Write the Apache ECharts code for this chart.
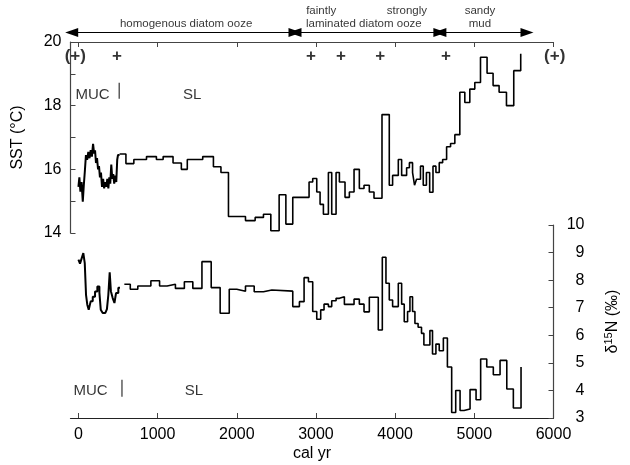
<!DOCTYPE html>
<html>
<head>
<meta charset="utf-8">
<script src="https://cdn.jsdelivr.net/npm/echarts@6/dist/echarts.min.js"></script>
<style>
  html, body { margin: 0; background: #fff; }
  #chart { width: 630px; height: 465px; }
</style>
</head>
<body>
<div id="chart"></div>
<script>
// cal yr -> SST (°C), multicorer part (dense) and gravity core (SL)
const sstMuc = [
  [0, 15.45], [12, 15.75], [25, 15.3], [40, 15.6], [55, 14.98], [68, 15.5], [80, 15.9],
  [95, 16.45], [110, 16.3], [125, 16.55], [140, 16.35], [155, 16.6], [170, 16.4],
  [185, 16.8], [198, 16.5], [210, 16.6], [222, 16.2], [235, 16.35], [248, 16.0],
  [260, 16.1], [272, 15.75], [285, 15.9], [298, 15.45], [312, 15.7], [325, 15.4],
  [338, 15.6], [352, 15.45], [365, 15.7], [378, 15.4], [390, 15.75], [402, 15.55],
  [415, 16.15], [428, 15.7], [440, 15.85], [452, 15.55], [465, 15.8], [478, 15.6],
  [490, 16.3], [500, 16.45], [520, 16.45]
]
const sstSl = [
  [520, 16.48], [600, 16.18], [700, 16.31], [860, 16.4], [985, 16.31], [1070, 16.4],
  [1195, 16.2], [1300, 16.0], [1375, 16.31], [1570, 16.4], [1705, 16.08], [1800, 15.9],
  [1895, 14.52], [2110, 14.39], [2232, 14.49], [2337, 14.59], [2430, 14.07], [2535, 15.2],
  [2620, 14.28], [2707, 15.12], [2913, 15.6], [2959, 15.71], [3010, 15.29], [3052, 14.9],
  [3094, 14.59], [3157, 15.9], [3199, 14.59], [3254, 15.9], [3296, 15.6], [3367, 15.12],
  [3422, 15.29], [3481, 16.0], [3548, 15.4], [3607, 15.5], [3674, 15.29], [3733, 15.09],
  [3834, 17.72], [3926, 15.5], [3968, 15.81], [4040, 16.31], [4082, 15.81], [4145, 16.05],
  [4180, 16.21], [4220, 15.9], [4245, 15.5], [4270, 15.69], [4320, 16.1], [4355, 15.5],
  [4395, 15.9], [4436, 15.28], [4478, 16.1], [4515, 15.9], [4557, 16.21], [4600, 16.31],
  [4650, 16.71], [4700, 16.81], [4754, 17.09], [4817, 18.42], [4880, 18.1], [4943, 18.52],
  [5006, 18.73], [5078, 19.52], [5161, 19.02], [5237, 18.63], [5313, 18.42], [5406, 18.0],
  [5498, 19.1], [5586, 19.63]
]
// cal yr -> δ15N (‰)
const d15nMuc = [
  [0, 8.74], [20, 8.6], [42, 8.8], [62, 8.98], [80, 8.62], [96, 7.47], [112, 7.11],
  [130, 6.93], [155, 7.23], [181, 7.4], [210, 7.59], [239, 7.77], [265, 7.55], [282, 6.93],
  [307, 6.81], [340, 6.85], [360, 6.95], [378, 7.47], [395, 8.28], [410, 7.6], [433, 7.35],
  [455, 7.17], [475, 7.53], [504, 7.72], [525, 7.72]
]
const d15nSl = [
  [580, 7.85], [655, 7.67], [750, 7.79], [915, 7.98], [1025, 7.79], [1120, 7.85],
  [1225, 7.7], [1338, 7.94], [1445, 7.7], [1560, 8.67], [1677, 7.73], [1790, 6.8],
  [1905, 7.67], [2000, 7.6], [2110, 7.79], [2220, 7.58], [2337, 7.64], [2443, 7.6],
  [2707, 7.04], [2791, 7.22], [2850, 8.09], [2905, 7.94], [2959, 6.86], [3010, 6.58],
  [3060, 6.92], [3102, 7.13], [3157, 7.04], [3199, 7.25], [3254, 7.34], [3296, 7.4],
  [3359, 7.12], [3481, 7.31], [3548, 7.13], [3607, 6.85], [3674, 7.38], [3787, 6.19],
  [3838, 8.83], [3884, 7.89], [3926, 7.28], [3968, 7.04], [4040, 7.89], [4082, 7.13],
  [4115, 6.49], [4157, 6.86], [4187, 7.4], [4220, 6.86], [4250, 6.43], [4290, 6.29],
  [4333, 6.07], [4363, 5.65], [4439, 6.17], [4472, 5.32], [4515, 5.68], [4557, 5.44],
  [4609, 5.9], [4660, 4.85], [4714, 3.2], [4765, 4.0], [4820, 3.27], [4870, 3.33],
  [4946, 4.03], [5022, 3.66], [5080, 5.14], [5157, 4.85], [5240, 4.57], [5325, 5.09],
  [5410, 4.05], [5493, 3.36], [5590, 4.85]
]

const xTicks = [0, 1000, 2000, 3000, 4000, 5000, 6000]
// lithology zones (cal yr from - to) and their labels [text, yr, row]
const zones = [[-85, 2735], [2735, 4565], [4565, 5665]]
const zoneText = [
  ['homogenous diatom ooze', 1360, 24], ['faintly', 3066, 11], ['laminated diatom ooze', 3605, 24],
  ['strongly', 4149, 11], ['sandy', 5072, 11], ['mud', 5070, 24]
]
const plusMarks = [['(+)', -40], ['+', 488], ['+', 2938], ['+', 3317], ['+', 3810], ['+', 4643], ['(+)', 6015]]

const font = 'Liberation Sans, Arial, sans-serif'
const black = '#000'

function stepLine(data, xi, yi, width) {
  return {
    type: 'line', step: 'end', data: data, xAxisIndex: xi, yAxisIndex: yi,
    symbol: 'none', lineStyle: { color: black, width: width || 1.6 }, silent: true
  }
}
function textMarks(items, xi, yi, size, weight) {
  return {
    type: 'scatter', xAxisIndex: xi, yAxisIndex: yi, symbolSize: 0, silent: true, clip: false,
    data: items.map(v => ({ name: v[0], value: [v[1], v[2]] })),
    label: {
      show: true, position: 'inside', formatter: p => p.name,
      color: black, fontFamily: font, fontSize: size, fontWeight: weight || 'normal'
    }
  }
}
function barMark(x, y0, y1, xi, yi) {
  return {
    type: 'line', xAxisIndex: xi, yAxisIndex: yi, symbol: 'none', silent: true,
    data: [[x, y0], [x, y1]], lineStyle: { color: '#333', width: 1.2 }
  }
}

const chart = echarts.init(document.getElementById('chart'))
chart.setOption({
  animation: false,
  backgroundColor: '#fff',
  grid: [
    { left: 70.5, top: 42, width: 483, height: 191 },
    { left: 70.5, top: 225, width: 483, height: 193 },
    { left: 70.5, top: 0, width: 483, height: 70 }
  ],
  xAxis: [
    {
      gridIndex: 0, type: 'value', position: 'top', min: -100, max: 6000,
      axisLine: { onZero: false, lineStyle: { color: '#444', width: 1.2 } },
      axisTick: { inside: true, length: 5, customValues: xTicks, lineStyle: { color: '#444' } },
      axisLabel: { show: false }, splitLine: { show: false }
    },
    {
      gridIndex: 1, type: 'value', position: 'bottom', min: -100, max: 6000,
      name: 'cal yr', nameLocation: 'middle', nameGap: 28,
      nameTextStyle: { color: black, fontFamily: font, fontSize: 16 },
      axisLine: { onZero: false, lineStyle: { color: '#222', width: 1.2 } },
      axisTick: { inside: true, length: 5, customValues: xTicks, lineStyle: { color: '#444' } },
      axisLabel: {
        customValues: xTicks, formatter: v => String(v),
        color: black, fontFamily: font, fontSize: 16, margin: 9
      },
      splitLine: { show: false }
    },
    { gridIndex: 2, type: 'value', min: -100, max: 6000, show: false }
  ],
  yAxis: [
    {
      gridIndex: 0, type: 'value', position: 'left', min: 14, max: 20, interval: 1,
      name: 'SST (°C)', nameLocation: 'middle', nameGap: 45,
      nameTextStyle: { color: black, fontFamily: font, fontSize: 16 },
      axisLine: { show: true, onZero: false, lineStyle: { color: '#444', width: 1.2 } },
      axisTick: { inside: true, length: 5, lineStyle: { color: '#444' } },
      axisLabel: {
        formatter: v => (v % 2 === 0 ? String(v) : ''),
        color: black, fontFamily: font, fontSize: 16, margin: 9
      },
      splitLine: { show: false }
    },
    {
      gridIndex: 1, type: 'value', position: 'right', min: 3, max: 10, interval: 1,
      name: '{t|δ}{s|15}{t|N (‰)}', nameLocation: 'middle', nameGap: 50,
      nameTextStyle: {
        color: black, fontFamily: font, fontSize: 16,
        rich: {
          t: { fontFamily: font, fontSize: 16, color: black },
          s: { fontFamily: font, fontSize: 11, color: black, verticalAlign: 'top', padding: [0, 0, 8, 0] }
        }
      },
      axisLine: { show: true, onZero: false, lineStyle: { color: '#444', width: 1.2 } },
      axisTick: { inside: true, length: 5, lineStyle: { color: '#444' } },
      axisLabel: { align: 'right', margin: 31, color: black, fontFamily: font, fontSize: 16 },
      splitLine: { show: false }
    },
    { gridIndex: 2, type: 'value', min: 0, max: 70, inverse: true, show: false }
  ],
  series: [
    stepLine(sstMuc, 0, 0, 2),
    stepLine(sstSl, 0, 0),
    stepLine(d15nMuc, 1, 1, 2),
    stepLine(d15nSl, 1, 1),
    // lithology arrows
    {
      type: 'line', xAxisIndex: 2, yAxisIndex: 2, data: [], silent: true,
      markLine: {
        silent: true, animation: false,
        symbol: ['triangle', 'triangle'], symbolSize: [9, 13],
        label: { show: false },
        lineStyle: { color: black, type: 'solid', width: 1.2 },
        emphasis: { disabled: true },
        data: zones.map(z => [{ coord: [z[0], 32.5] }, { coord: [z[1], 32.5] }])
      }
    },
    textMarks(zoneText, 2, 2, 11.5),
    textMarks(plusMarks.map(p => [p[0], p[1], 56]), 2, 2, 17, 'bold'),
    textMarks([['MUC', 178, 18.34], ['SL', 1436, 18.34]], 0, 0, 15),
    barMark(515, 18.22, 18.72, 0, 0),
    textMarks([['MUC', 153, 3.99], ['SL', 1460, 3.99]], 1, 1, 15),
    barMark(550, 3.77, 4.39, 1, 1)
  ]
})
</script>
</body>
</html>
